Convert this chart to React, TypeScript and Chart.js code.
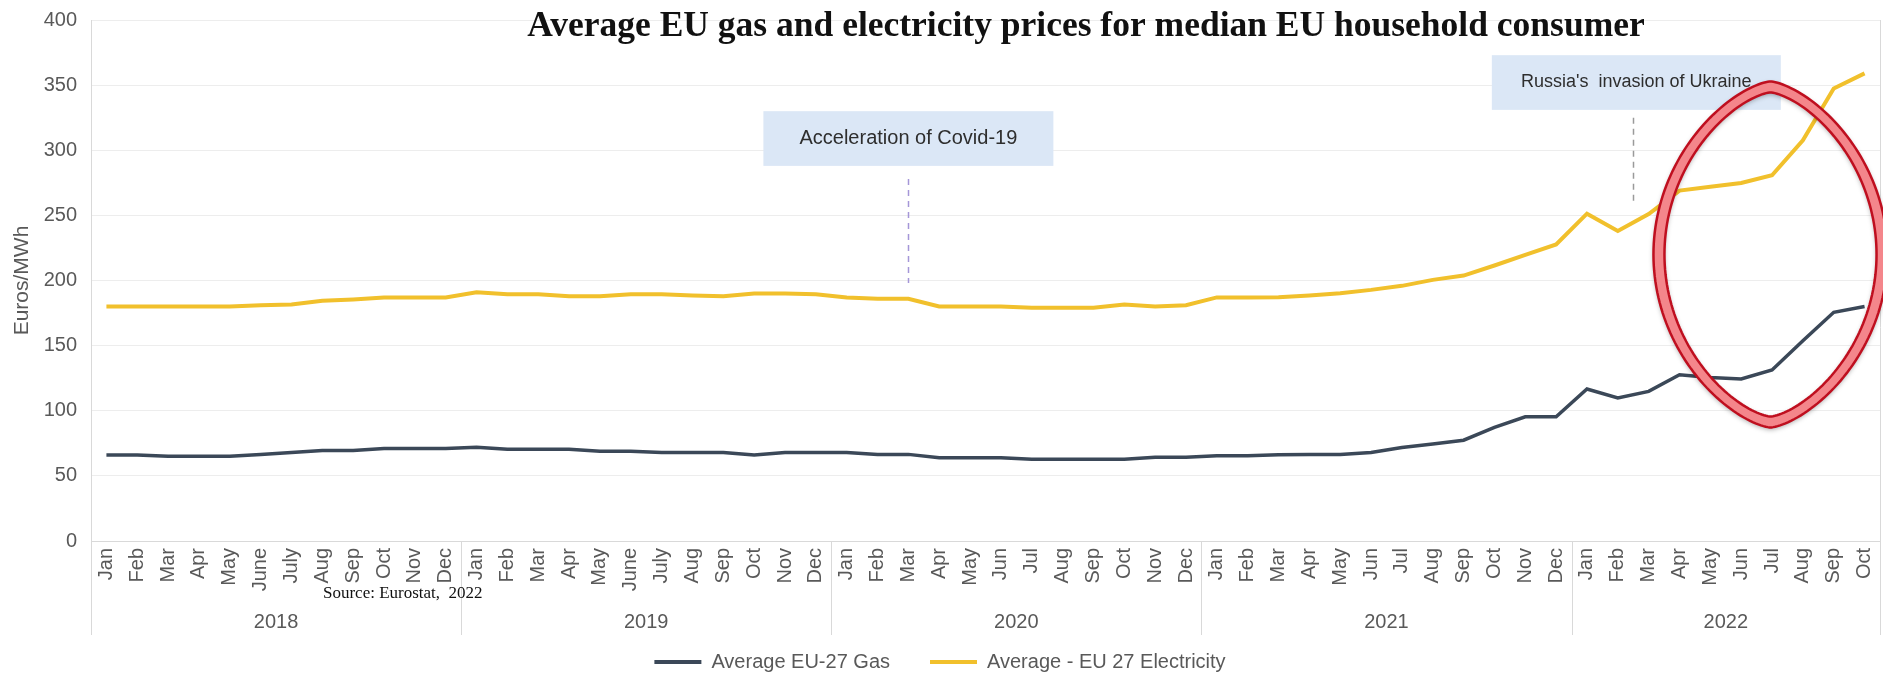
import React, { useEffect, useRef } from 'react';
import { Chart, registerables } from 'chart.js';

Chart.register(...registerables);

// ---------- data ----------
const monthLabels = [
  'Jan', 'Feb', 'Mar', 'Apr', 'May', 'June', 'July', 'Aug', 'Sep', 'Oct', 'Nov', 'Dec',
  'Jan', 'Feb', 'Mar', 'Apr', 'May', 'June', 'July', 'Aug', 'Sep', 'Oct', 'Nov', 'Dec',
  'Jan', 'Feb', 'Mar', 'Apr', 'May', 'Jun', 'Jul', 'Aug', 'Sep', 'Oct', 'Nov', 'Dec',
  'Jan', 'Feb', 'Mar', 'Apr', 'May', 'Jun', 'Jul', 'Aug', 'Sep', 'Oct', 'Nov', 'Dec',
  'Jan', 'Feb', 'Mar', 'Apr', 'May', 'Jun', 'Jul', 'Aug', 'Sep', 'Oct',
];

const yearLabels = ['2018', '2019', '2020', '2021', '2022'];
const monthsPerYear = [12, 12, 12, 12, 10];

const gasPrices = [
  66, 66, 65, 65, 65, 66.5, 68, 69.5, 69.5, 71, 71, 71,
  72, 70.5, 70.5, 70.5, 69, 69, 68, 68, 68, 66, 68, 68,
  68, 66.5, 66.5, 64, 64, 64, 62.8, 62.8, 62.8, 62.8, 64.3, 64.3,
  65.5, 65.5, 66.3, 66.5, 66.5, 68, 71.8, 74.4, 77.4, 87.2, 95.4, 95.4,
  116.7, 109.8, 114.9, 127.7, 125.6, 124.4, 131.3, 153.8, 175.6, 180,
];

const electricityPrices = [
  180, 180, 180, 180, 180, 181, 181.5, 184.5, 185.5, 187, 187, 187,
  191, 189.5, 189.5, 188, 188, 189.5, 189.5, 188.5, 188, 190, 190, 189.5,
  187, 186, 186, 180, 180, 180, 179, 179, 179, 181.5, 180, 181,
  187, 187, 187.2, 188.5, 190.3, 192.8, 195.9, 200.5, 203.8, 211.5, 219.7, 227.7,
  251.3, 238, 251, 269, 272, 274.9, 280.8, 307.7, 347.4, 359,
];

const seriesNames = ['Average EU-27 Gas', 'Average - EU 27 Electricity'];
const yAxisMin = 0;
const yAxisMax = 400;
const yAxisStep = 50;

const chartTitle = 'Average EU gas and electricity prices for median EU household consumer';
const sourceNote = 'Source: Eurostat,  2022';
const covidNote = 'Acceleration of Covid-19';
const ukraineNote = "Russia's  invasion of Ukraine";

// ---------- styles ----------
const SANS = '"Liberation Sans", Arial, sans-serif';
const SERIF = '"Liberation Serif", "Times New Roman", serif';
const GAS_COLOR = '#3b4858';
const ELEC_COLOR = '#f1c02c';
const TEXT_GRAY = '#595959';
const AXIS_GRAY = '#d9d9d9';
const GRID_GRAY = '#ededed';
const NOTE_BG = '#dbe7f6';

function ovalPath(ctx: CanvasRenderingContext2D, cx: number, cy: number, rx: number, ry: number, p: number) {
  const N = 200;
  for (let k = 0; k <= N; k++) {
    const t = (k / N) * Math.PI * 2;
    const c = Math.cos(t);
    const s = Math.sin(t);
    const px = cx + rx * Math.sign(c) * Math.pow(Math.abs(c), p);
    const py = cy + ry * s;
    if (k === 0) ctx.moveTo(px, py);
    else ctx.lineTo(px, py);
  }
  ctx.closePath();
}

const overlayPlugin = {
  id: 'overlay',
  afterDraw(chart: any) {
    const { ctx, chartArea, scales } = chart;
    const x = scales.x;
    const y = scales.y;
    const catW = x.getPixelForValue(1) - x.getPixelForValue(0);
    ctx.save();

    // year separators and year labels
    const bounds: number[] = [-0.5];
    let acc = 0;
    monthsPerYear.forEach((n) => {
      acc += n;
      bounds.push(acc - 0.5);
    });
    const sepBottom = chartArea.bottom + 94;
    ctx.strokeStyle = AXIS_GRAY;
    ctx.lineWidth = 1;
    bounds.forEach((b, i) => {
      const px = Math.round(x.getPixelForValue(b)) + 0.5;
      ctx.beginPath();
      ctx.moveTo(px, i === bounds.length - 1 ? chartArea.top : chartArea.bottom);
      ctx.lineTo(px, sepBottom);
      ctx.stroke();
    });
    ctx.fillStyle = TEXT_GRAY;
    ctx.font = `20px ${SANS}`;
    ctx.textAlign = 'center';
    ctx.textBaseline = 'middle';
    yearLabels.forEach((yr, i) => {
      const mid = (bounds[i] + bounds[i + 1]) / 2;
      ctx.fillText(yr, x.getPixelForValue(mid), chartArea.bottom + 81);
    });

    // annotation boxes
    const drawNote = (text: string, fontSize: number, cIdx: number, w: number, vTop: number, vBot: number, lineIdx: number, lTop: number, lBot: number, dashColor: string) => {
      const cx = x.getPixelForValue(cIdx);
      const top = y.getPixelForValue(vTop);
      const bot = y.getPixelForValue(vBot);
      ctx.fillStyle = NOTE_BG;
      ctx.fillRect(cx - w / 2, top, w, bot - top);
      ctx.fillStyle = '#2e2e2e';
      ctx.font = `${fontSize}px ${SANS}`;
      ctx.textAlign = 'center';
      ctx.textBaseline = 'middle';
      ctx.fillText(text, cx, (top + bot) / 2);
      const lx = Math.round(x.getPixelForValue(lineIdx)) + 0.5;
      ctx.strokeStyle = dashColor;
      ctx.lineWidth = 1.5;
      ctx.setLineDash([6, 5]);
      ctx.beginPath();
      ctx.moveTo(lx, y.getPixelForValue(lTop));
      ctx.lineTo(lx, y.getPixelForValue(lBot));
      ctx.stroke();
      ctx.setLineDash([]);
    };
    drawNote(covidNote, 20, 26, 290, 330, 288, 26, 278, 198, '#a596d8');
    drawNote(ukraineNote, 18, 49.6, 289, 373, 331, 49.5, 325, 258, '#9a9a9a');

    // red hand-drawn oval
    const ocx = x.getPixelForValue(53.95);
    const ocy = y.getPixelForValue(220);
    const orx = 3.6 * catW;
    const ory = y.getPixelForValue(220) - y.getPixelForValue(349);
    const P = 1.35;
    ctx.save();
    ctx.shadowColor = 'rgba(0,0,0,0.35)';
    ctx.shadowBlur = 5;
    ctx.shadowOffsetY = 2;
    ctx.beginPath();
    ovalPath(ctx, ocx, ocy, orx + 6, ory + 5, P);
    ovalPath(ctx, ocx, ocy, orx - 5, ory - 6, P);
    ctx.fillStyle = '#f4868b';
    ctx.fill('evenodd');
    ctx.restore();
    ctx.strokeStyle = '#bf0f1f';
    ctx.lineWidth = 2.5;
    ctx.beginPath();
    ovalPath(ctx, ocx, ocy, orx + 6, ory + 5, P);
    ctx.stroke();
    ctx.beginPath();
    ovalPath(ctx, ocx, ocy, orx - 5, ory - 6, P);
    ctx.stroke();

    // title
    ctx.fillStyle = '#111111';
    ctx.font = `bold 35.5px ${SERIF}`;
    ctx.textAlign = 'center';
    ctx.textBaseline = 'alphabetic';
    ctx.fillText(chartTitle, 1086, 36);

    // source note
    ctx.font = `17px ${SERIF}`;
    ctx.textAlign = 'left';
    ctx.textBaseline = 'middle';
    ctx.fillText(sourceNote, 323, 594);

    ctx.restore();
  },
};

export default function App() {
  const canvasRef = useRef<HTMLCanvasElement | null>(null);

  useEffect(() => {
    const canvas = canvasRef.current;
    if (!canvas) return;
    Chart.defaults.font.family = SANS;
    const chart = new Chart(canvas, {
      type: 'line',
      data: {
        labels: monthLabels,
        datasets: [
          {
            label: seriesNames[0],
            data: gasPrices,
            borderColor: GAS_COLOR,
            backgroundColor: GAS_COLOR,
            borderWidth: 3.5,
            pointRadius: 0,
            tension: 0,
          },
          {
            label: seriesNames[1],
            data: electricityPrices,
            borderColor: ELEC_COLOR,
            backgroundColor: ELEC_COLOR,
            borderWidth: 4,
            pointRadius: 0,
            tension: 0,
          },
        ],
      },
      options: {
        responsive: false,
        maintainAspectRatio: false,
        animation: false,
        devicePixelRatio: 1,
        layout: { padding: { top: 20, right: 3, bottom: 0, left: 0 } },
        plugins: {
          title: { display: false },
          tooltip: { enabled: false },
          legend: {
            display: true,
            position: 'bottom',
            labels: {
              boxWidth: 47,
              boxHeight: 4,
              padding: 40,
              color: TEXT_GRAY,
              font: { size: 20, family: SANS },
              generateLabels: (c: any) =>
                (Chart.defaults.plugins.legend.labels as any)
                  .generateLabels(c)
                  .map((l: any) => ({ ...l, lineWidth: 0, fillStyle: l.strokeStyle })),
            },
          },
        },
        scales: {
          x: {
            type: 'category',
            offset: true,
            grid: { display: false, drawTicks: false },
            border: { display: true, color: AXIS_GRAY, width: 1 },
            ticks: {
              autoSkip: false,
              maxRotation: 90,
              minRotation: 90,
              padding: 7,
              color: TEXT_GRAY,
              font: { size: 20, family: SANS },
            },
            afterFit: (scale: any) => {
              scale.height = 71;
              scale.paddingLeft = 0;
              scale.paddingRight = 0;
            },
          },
          y: {
            min: yAxisMin,
            max: yAxisMax,
            ticks: {
              stepSize: yAxisStep,
              padding: 14,
              color: TEXT_GRAY,
              font: { size: 20, family: SANS },
            },
            grid: { color: GRID_GRAY, drawTicks: false, lineWidth: 1 },
            border: { display: true, color: AXIS_GRAY, width: 1 },
            title: {
              display: true,
              text: 'Euros/MWh',
              color: TEXT_GRAY,
              font: { size: 21, family: SANS },
              padding: { top: 10, bottom: 0 },
            },
            afterFit: (scale: any) => {
              scale.width = 91;
              scale.paddingTop = 0;
              scale.paddingBottom = 0;
            },
          },
        },
      },
      plugins: [overlayPlugin],
    });
    return () => chart.destroy();
  }, []);

  return (
    <div style={{ position: 'fixed', left: 0, top: 0, width: 1883, height: 682, background: '#ffffff' }}>
      <canvas ref={canvasRef} width={1883} height={682} style={{ display: 'block' }} />
    </div>
  );
}
